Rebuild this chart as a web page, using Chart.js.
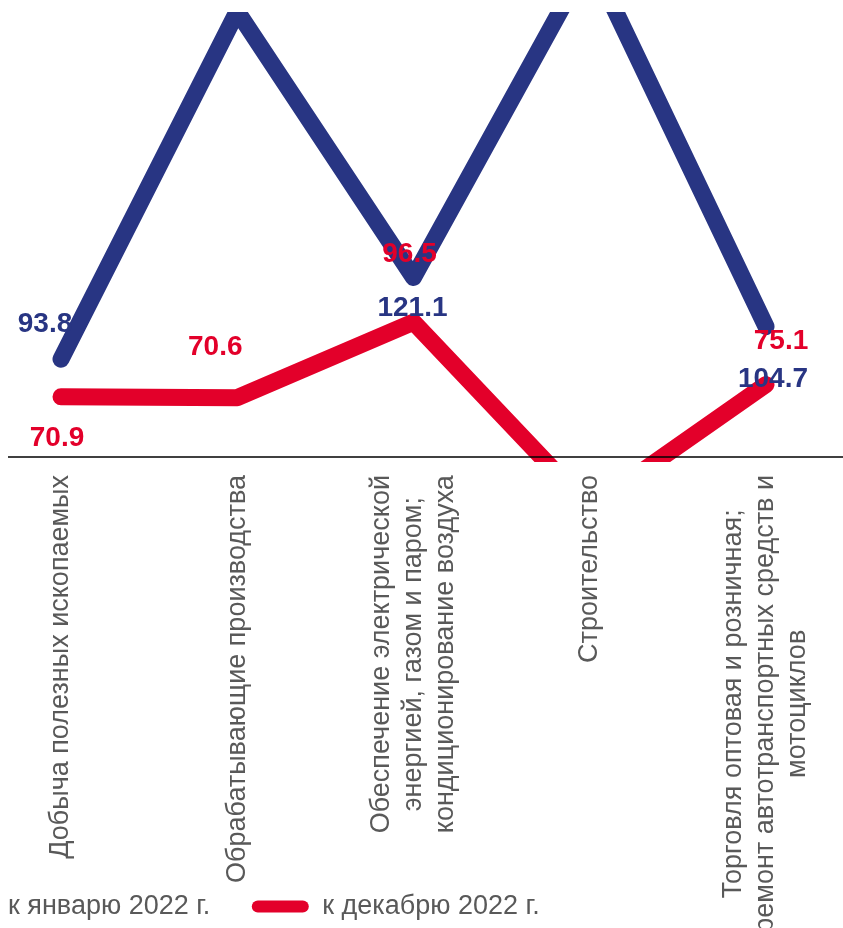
<!DOCTYPE html>
<html>
<head>
<meta charset="utf-8">
<script src="https://cdn.jsdelivr.net/npm/chart.js@4.4.1/dist/chart.umd.min.js"></script>
<style>
	html, body { margin: 0; padding: 0; background: #fff; overflow: hidden; }
	/* the original picture is a crop: the canvas runs past the left edge */
	#wrap { position: absolute; left: -104px; top: 0; width: 947px; height: 930px; }
</style>
</head>
<body>
<div id="wrap"><canvas id="myChart" width="947" height="930"></canvas></div>
<script>
var categories = [
	["Добыча полезных ископаемых"],
	["Обрабатывающие производства"],
	["Обеспечение электрической", "энергией, газом и паром;", "кондиционирование воздуха"],
	["Строительство"],
	["Торговля оптовая и розничная;", "ремонт автотранспортных средств и", "мотоциклов"]
];
var seriesNames = ["к январю 2022 г.", "к декабрю 2022 г."];
var janValues = [93.8, 210, 121.1, 228, 104.7];
var decValues = [70.9, 70.6, 96.5, 32.8, 75.1];

var blue = "#283583", red = "#e3002a", grey = "#595959";
var FONT = "'Liberation Sans', Arial, sans-serif";

//where each value label sits relative to its point (the source placed them by hand)
var janLabelShift = [[-16, -35], [0, 0], [-1, 31], [0, 0], [7, 53]];
var decLabelShift = [[-4, 42], [-22, -50], [-4, -68], [0, 0], [15, -43]];

//axis line plus the rotated, centred category names
var categoryAxis = {
	id: "categoryAxis",
	afterDatasetsDraw: function(chart){
		var ctx = chart.ctx, area = chart.chartArea, xs = chart.scales.x;
		ctx.save();
		ctx.strokeStyle = "#000";
		ctx.lineWidth = 1.5;
		ctx.beginPath();
		ctx.moveTo(area.left - 53, area.bottom);
		ctx.lineTo(chart.width, area.bottom);
		ctx.stroke();

		ctx.font = "27px " + FONT;
		ctx.fillStyle = grey;
		ctx.textAlign = "center";
		ctx.textBaseline = "middle";
		for (var i = 0; i < categories.length; i++){
			var lines = categories[i];
			var x = xs.getPixelForValue(i);
			var w = 0;
			for (var j = 0; j < lines.length; j++){
				w = Math.max(w, ctx.measureText(lines[j]).width);
			}
			var cy = area.bottom + 18 + w / 2;
			for (var j = 0; j < lines.length; j++){
				ctx.save();
				ctx.translate(x + (j - (lines.length - 1) / 2) * 32, cy);
				ctx.rotate(-Math.PI / 2);
				ctx.fillText(lines[j], 0, 0);
				ctx.restore();
			}
		}
		ctx.restore();
	}
};

var valueLabels = {
	id: "valueLabels",
	afterDatasetsDraw: function(chart){
		var ctx = chart.ctx, area = chart.chartArea;
		ctx.save();
		ctx.font = "bold 28px " + FONT;
		ctx.textAlign = "center";
		ctx.textBaseline = "middle";
		chart.data.datasets.forEach(function(ds, d){
			var meta = chart.getDatasetMeta(d);
			meta.data.forEach(function(pt, i){
				//points pushed out of the plot have no visible label
				if (pt.y < area.top || pt.y > area.bottom) return;
				var s = ds.labelShift[i];
				ctx.fillStyle = ds.borderColor;
				ctx.fillText(ds.data[i].toFixed(1), pt.x + s[0], pt.y + s[1]);
			});
		});
		ctx.restore();
	}
};

function lineSet(name, values, color, axis, shift){
	return {
		label: name,
		data: values,
		yAxisID: axis,
		borderColor: color,
		backgroundColor: color,
		borderWidth: 17,
		borderCapStyle: "round",
		borderJoinStyle: "round",
		pointRadius: 0,
		pointHoverRadius: 0,
		tension: 0,
		clip: {left: false, right: false, top: 0, bottom: 5},
		labelShift: shift
	};
}

var ctx = document.getElementById("myChart").getContext("2d");
new Chart(ctx, {
	type: "line",
	data: {
		labels: categories,
		datasets: [
			lineSet(seriesNames[0], janValues, blue, "y1", janLabelShift),
			lineSet(seriesNames[1], decValues, red, "y", decLabelShift)
		]
	},
	options: {
		responsive: false,
		animation: false,
		devicePixelRatio: 1,
		layout: {padding: {top: 12, right: 77, bottom: 0, left: 0}},
		scales: {
			x: {
				offset: false,
				ticks: {display: false},
				grid: {display: false},
				border: {display: false},
				afterFit: function(s){ s.height = 394.5; }
			},
			y: {
				position: "left",
				min: 50.25, max: 202.8,
				ticks: {display: false},
				grid: {display: false},
				border: {display: false},
				afterFit: function(s){ s.width = 165; }
			},
			y1: {
				position: "right",
				display: false,
				min: 61.1, max: 209.8
			}
		},
		plugins: {
			tooltip: {enabled: false},
			legend: {
				position: "bottom",
				align: "start",
				labels: {
					boxWidth: 57,
					boxHeight: 12,
					padding: 41.5,
					color: grey,
					font: {size: 27, family: FONT},
					useBorderRadius: true,
					borderRadius: 6,
					generateLabels: function(chart){
						return chart.data.datasets.map(function(ds, i){
							return {text: ds.label, fillStyle: ds.borderColor, strokeStyle: ds.borderColor,
								lineWidth: 0, hidden: false, datasetIndex: i, borderRadius: 6, fontColor: grey};
						});
					}
				}
			}
		}
	},
	plugins: [categoryAxis, valueLabels]
});
</script>
</body>
</html>
